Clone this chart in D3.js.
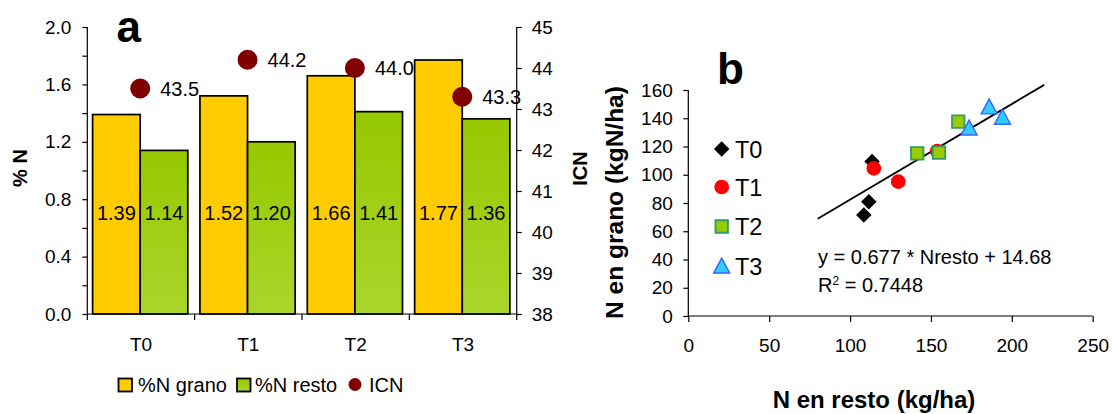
<!DOCTYPE html>
<html><head><meta charset="utf-8">
<script src="https://cdn.jsdelivr.net/npm/d3@7"></script>
<style>body{margin:0;background:#fff} text{font-family:"Liberation Sans",Arial,sans-serif;fill:#000}</style>
</head><body><svg id="c" width="1112" height="414"></svg>
<script>
// ---------- data: panel a ----------
const categories = ["T0","T1","T2","T3"];
const nGrano = [1.39,1.52,1.66,1.77];
const nResto = [1.14,1.20,1.41,1.36];
const icn = [43.5,44.2,44.0,43.3];
const leftTicks = [0,0.2,0.4,0.6,0.8,1.0,1.2,1.4,1.6,1.8,2.0];
const leftTickLabels = [0,0.4,0.8,1.2,1.6,2.0];
const rightTicks = [38,39,40,41,42,43,44,45];
const legendA = ["%N grano","%N resto","ICN"];
// ---------- data: panel b ----------
const seriesNames = ["T0","T1","T2","T3"];
const t0Resto = [113.6,111.6,108.5], t0Grano = [109.3,80.9,71.5];
const t1Resto = [114.7,129.8,153.9], t1Grano = [104.5,95.1,116.8];
const t2Resto = [141.5,155.0,166.9], t2Grano = [115.2,115.6,137.6];
const t3Resto = [173.6,186.0,194.2], t3Grano = [132.6,147.5,140.2];
const xTicksB = [0,50,100,150,200,250];
const yTicksB = [0,20,40,60,80,100,120,140,160];
const fitSlope = 0.677, fitIntercept = 14.68, fitRange = [80,220];
const eqText = "y = 0.677 * Nresto + 14.68";

const svg = d3.select("#c");
const FF = '"Liberation Sans",Arial,sans-serif';
const TICKF = 19;

// ================= Panel a =================
const gA = svg.append("g");
const yL = d3.scaleLinear().domain([0,2]).range([314,27]);
const yR = d3.scaleLinear().domain([38,45]).range([314,27]);
const xB = d3.scaleBand().domain(categories).range([87.3,516.7]).padding(0);
const xIn = d3.scaleBand().domain(["grano","resto"]).range([5.3,100.5]).padding(0);

const defs = svg.append("defs");
const grad = defs.append("linearGradient").attr("id","gGreen").attr("x1",0).attr("x2",0).attr("y1",0).attr("y2",1);
grad.append("stop").attr("offset","0%").attr("stop-color","#96c800");
grad.append("stop").attr("offset","100%").attr("stop-color","#aad62c");

const rows = categories.map((c,i)=>({c, grano:nGrano[i], resto:nResto[i], icn:icn[i]}));

const grp = gA.selectAll("g.cat").data(rows).join("g").attr("transform",d=>`translate(${xB(d.c)},0)`);
grp.append("rect").attr("x",xIn("grano")).attr("width",xIn.bandwidth())
  .attr("y",d=>yL(d.grano)).attr("height",d=>yL(0)-yL(d.grano))
  .attr("fill","#ffcc00").attr("stroke","#000").attr("stroke-width",1.7);
grp.append("rect").attr("x",xIn("resto")).attr("width",xIn.bandwidth())
  .attr("y",d=>yL(d.resto)).attr("height",d=>yL(0)-yL(d.resto))
  .attr("fill","url(#gGreen)").attr("stroke","#000").attr("stroke-width",1.7);
const labelLevel = 0.655;
grp.append("text").attr("x",xIn("grano")+xIn.bandwidth()/2).attr("y",yL(labelLevel))
  .attr("text-anchor","middle").style("font-size","20px").text(d=>d.grano.toFixed(2));
grp.append("text").attr("x",xIn("resto")+xIn.bandwidth()/2).attr("y",yL(labelLevel))
  .attr("text-anchor","middle").style("font-size","20px").text(d=>d.resto.toFixed(2));

// ICN dots
grp.append("circle").attr("cx",xIn("resto")).attr("cy",d=>yR(d.icn)).attr("r",10).attr("fill","#800000");
grp.append("text").attr("x",xIn("resto")+20).attr("y",d=>yR(d.icn)+7)
  .style("font-size","20px").text(d=>d.icn.toFixed(1));

// axes
const axL = gA.append("g").attr("transform","translate(87.3,0)")
  .call(d3.axisLeft(yL).tickValues(leftTicks).tickSize(5).tickPadding(11)
    .tickFormat(d=>leftTickLabels.some(v=>Math.abs(v-d)<1e-9)?d3.format(".1f")(d):""));
const axR = gA.append("g").attr("transform","translate(516.7,0)")
  .call(d3.axisRight(yR).tickValues(rightTicks).tickSize(5).tickPadding(10).tickFormat(d3.format("d")));
const axB = gA.append("g").attr("transform","translate(0,314)")
  .call(d3.axisBottom(xB).tickSize(0).tickPadding(24));
axB.selectAll(".tick line").remove();
gA.append("g").selectAll("line").data(d3.range(categories.length+1)).join("line")
  .attr("x1",i=>xB.range()[0]+i*xB.step()).attr("x2",i=>xB.range()[0]+i*xB.step())
  .attr("y1",314).attr("y2",320).attr("stroke","#000").attr("stroke-width",1.2);
[axL,axR,axB].forEach(a=>{
  a.selectAll("text").style("font-size",TICKF+"px").style("font-family",FF).attr("fill","#000");
  a.selectAll("path,line").attr("stroke","#000").attr("stroke-width",1.2);
});
axL.select(".domain").attr("d","M0,27V314");
axR.select(".domain").attr("d","M0,27V314");
axB.select(".domain").attr("d","M87.3,0H516.7");

gA.append("text").attr("transform","translate(27,168) rotate(-90)").attr("text-anchor","middle")
  .style("font-size","20px").style("font-weight","bold").text("% N");
gA.append("text").attr("transform","translate(586.5,168.5) rotate(-90)").attr("text-anchor","middle")
  .style("font-size","20px").style("font-weight","bold").text("ICN");
gA.append("text").attr("x",116.5).attr("y",41.7).style("font-size","44px").style("font-weight","bold").text("a");

// legend a
const legA = gA.append("g");
legA.append("rect").attr("x",118.5).attr("y",378.5).attr("width",13.5).attr("height",13).attr("fill","#ffcc00").attr("stroke","#000").attr("stroke-width",1.8);
legA.append("rect").attr("x",237).attr("y",378.5).attr("width",13.5).attr("height",13).attr("fill","url(#gGreen)").attr("stroke","#000").attr("stroke-width",1.8);
legA.append("circle").attr("cx",355).attr("cy",384.5).attr("r",6.5).attr("fill","#800000");
legA.selectAll("text").data(legendA).join("text")
  .attr("x",(d,i)=>[138,255,369][i]).attr("y",391.5).style("font-size","20px").text(d=>d);

// ================= Panel b =================
const gB = svg.append("g");
const xS = d3.scaleLinear().domain([0,250]).range([688.3,1092.7]);
const yS = d3.scaleLinear().domain([0,160]).range([316,90]);

const axXb = gB.append("g").attr("transform","translate(0,316)")
  .call(d3.axisBottom(xS).tickValues(xTicksB).tickSize(6).tickPadding(17).tickFormat(d3.format("d")));
const axYb = gB.append("g").attr("transform","translate(688.3,0)")
  .call(d3.axisLeft(yS).tickValues(yTicksB).tickSize(5).tickPadding(10.5).tickFormat(d3.format("d")));
[axXb,axYb].forEach(a=>{
  a.selectAll("text").style("font-size",TICKF+"px").style("font-family",FF).attr("fill","#000");
  a.selectAll("path,line").attr("stroke","#000").attr("stroke-width",1.2);
});
axXb.select(".domain").attr("d","M688.3,0H1092.7");
axYb.select(".domain").attr("d","M0,90V316");

gB.append("line").attr("x1",xS(fitRange[0])).attr("y1",yS(fitSlope*fitRange[0]+fitIntercept))
  .attr("x2",xS(fitRange[1])).attr("y2",yS(fitSlope*fitRange[1]+fitIntercept))
  .attr("stroke","#000").attr("stroke-width",1.8);

const diamond = {draw(ctx,size){const r=Math.sqrt(size/2);ctx.moveTo(0,-r);ctx.lineTo(r,0);ctx.lineTo(0,r);ctx.lineTo(-r,0);ctx.closePath();}};
const tri = {draw(ctx,size){const w=Math.sqrt(size)*1.23,h=w*0.93;ctx.moveTo(0,-h*0.58);ctx.lineTo(w/2,h*0.42);ctx.lineTo(-w/2,h*0.42);ctx.closePath();}};
const styles = [
  {sym:diamond, size:120, fill:"#000", stroke:"#000", sw:0},
  {sym:d3.symbolCircle, size:170, fill:"#ff0000", stroke:"#ff0000", sw:0},
  {sym:d3.symbolSquare, size:156, fill:"#99cc00", stroke:"#339966", sw:1.8},
  {sym:tri, size:170, fill:"#33ccff", stroke:"#3366ff", sw:1.4}
];
const pts = [[t0Resto,t0Grano],[t1Resto,t1Grano],[t2Resto,t2Grano],[t3Resto,t3Grano]];
pts.forEach((p,k)=>{
  const st = styles[k];
  const data = p[0].map((x,i)=>({x, y:p[1][i]}));
  gB.append("g").selectAll("path").data(data).join("path")
    .attr("d",d3.symbol().type(st.sym).size(st.size))
    .attr("transform",d=>`translate(${xS(d.x)},${yS(d.y)})`)
    .attr("fill",st.fill).attr("stroke",st.stroke).attr("stroke-width",st.sw);
});

// legend b
const legYb = [149,187,226.5,266.7];
seriesNames.forEach((n,k)=>{
  const st = styles[k];
  gB.append("path").attr("d",d3.symbol().type(st.sym).size(st.size))
    .attr("transform",`translate(721.7,${legYb[k]})`)
    .attr("fill",st.fill).attr("stroke",st.stroke).attr("stroke-width",st.sw);
  gB.append("text").attr("x",735).attr("y",legYb[k]+8.5).style("font-size","23.5px").text(n);
});

gB.append("text").attr("x",818).attr("y",263.5).style("font-size","20px").text(eqText);
const r2 = gB.append("text").attr("x",818).attr("y",292).style("font-size","20px");
r2.append("tspan").text("R");
r2.append("tspan").attr("dy",-7).style("font-size","12px").text("2");
r2.append("tspan").attr("dy",7).text(" = 0.7448");

gB.append("text").attr("x",717).attr("y",84).style("font-size","44px").style("font-weight","bold").text("b");
gB.append("text").attr("transform","translate(623,202.5) rotate(-90)").attr("text-anchor","middle")
  .style("font-size","24.5px").style("font-weight","bold").text("N en grano (kgN/ha)");
gB.append("text").attr("x",874).attr("y",407.5).attr("text-anchor","middle")
  .style("font-size","24px").style("font-weight","bold").text("N en resto (kg/ha)");
</script></body></html>
